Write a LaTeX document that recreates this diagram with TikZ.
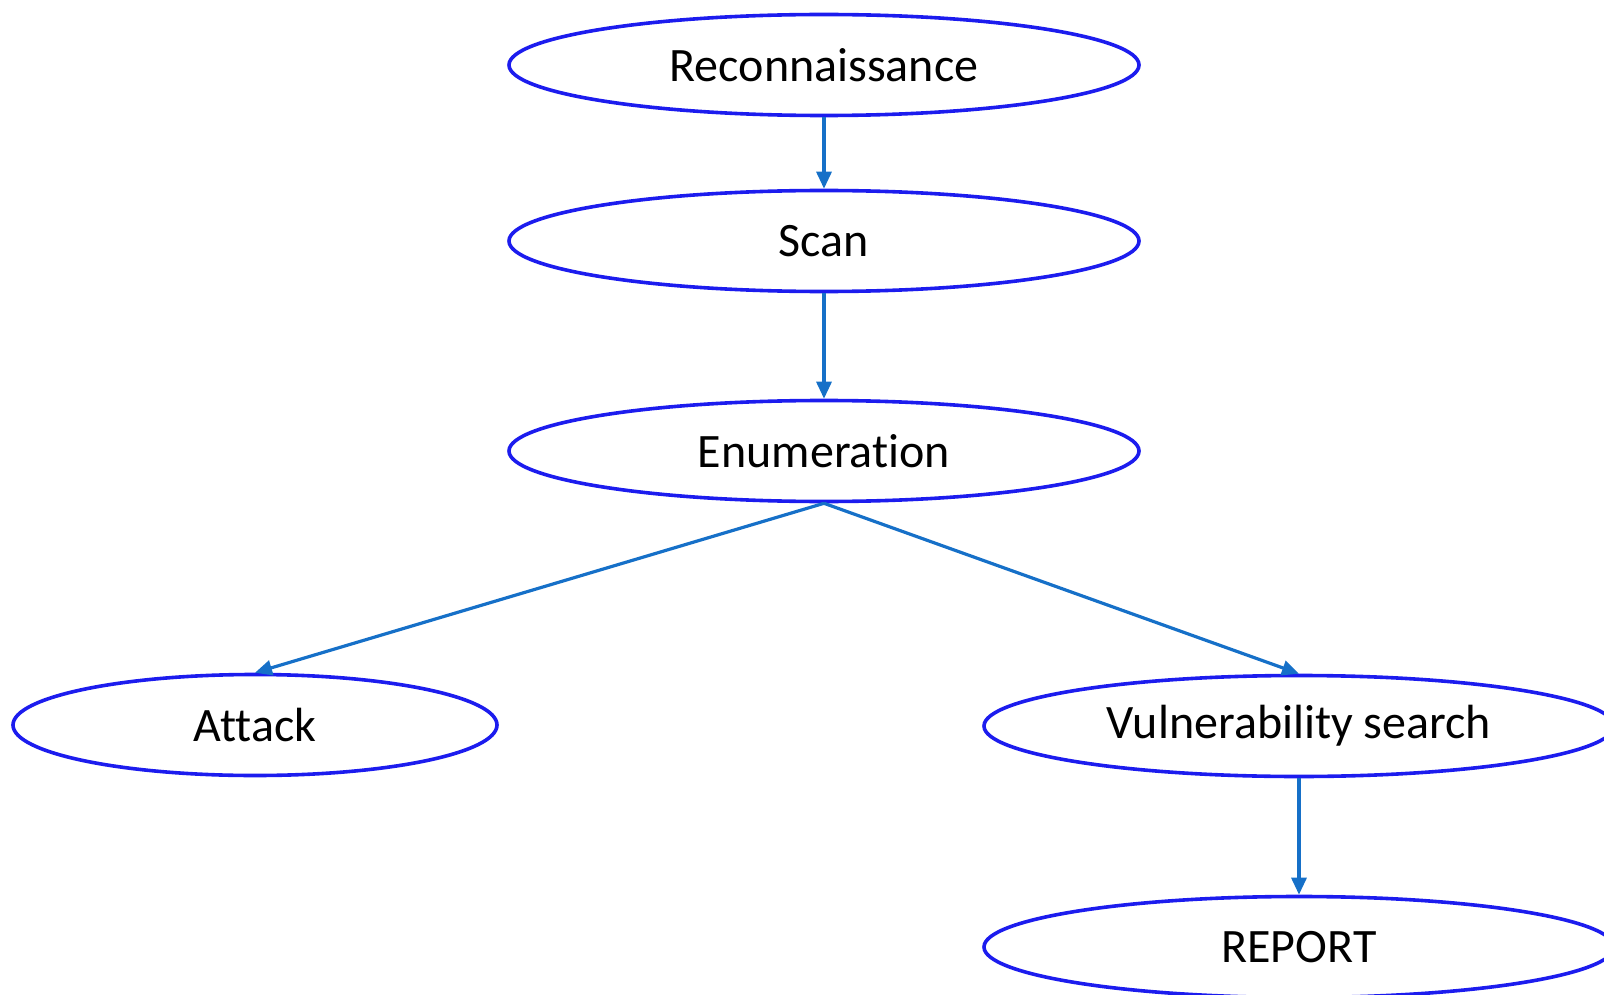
\documentclass[tikz,border=0pt]{standalone}
\usepackage{fontspec}
\setmainfont[Ligatures=NoCommon]{Carlito}
\usetikzlibrary{arrows.meta,shapes.geometric}
\definecolor{ringblue}{RGB}{28,28,238}
\definecolor{flowblue}{RGB}{22,112,200}
\begin{document}
\begin{tikzpicture}[x=1pt,y=-1pt,
  stage/.style={ellipse, draw=ringblue, line width=3.6pt, minimum width=630pt,
    minimum height=101pt, inner sep=0pt, font=\fontsize{48}{56}\selectfont},
  flow/.style={draw=flowblue, line width=3.2pt,
    -{Triangle[length=17pt,width=15pt]}}]
\useasboundingbox (0,0) rectangle (1604,995);

\node[stage] (recon) at (824,65) {Reconnaissance};
\node[stage] (scan) at (824,241) {Scan};
\node[stage] (enum) at (824,451) {Enumeration};
\node[stage, minimum width=484pt] (attack) at (255,725) {Attack};
\node[stage] (vuln) at (1299,726) {Vulnerability search};
\node[stage] (report) at (1299,947) {REPORT};

\draw[flow] (recon.south) -- (scan.north);
\draw[flow] (scan.south) -- (enum.north);
\draw[flow] (enum.south) -- (attack.north);
\draw[flow] (enum.south) -- (vuln.north);
\draw[flow] (vuln.south) -- (report.north);
\end{tikzpicture}
\end{document}
